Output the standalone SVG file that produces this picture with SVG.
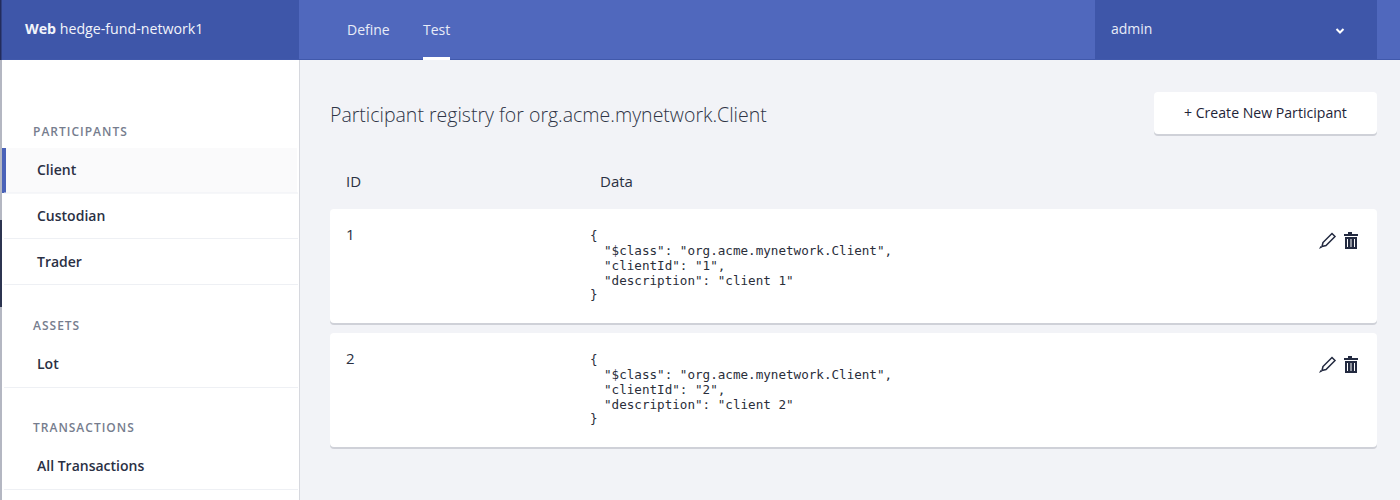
<svg xmlns="http://www.w3.org/2000/svg" width="1400" height="500" viewBox="0 0 1400 500">
<style>
text{font-family:"Open Sans","Noto Sans",sans-serif}
.nav{font-size:14px;fill:#e8ecf8}
.sec{font-size:12px;font-weight:600;fill:#767d8e;letter-spacing:1px}
.item{font-size:14px;font-weight:600;fill:#2a3044}
.th{font-size:15px;fill:#2a3042}
.id{font-size:15px;fill:#2a3042}
.code{font-family:"DejaVu Sans Mono","Liberation Mono",monospace;font-size:12.600px;fill:#2a2e3a;white-space:pre}
.line{stroke:#eef0f4;stroke-width:1}
.ic{fill:#232a40}
.pen{fill:#fff;stroke:#232a40;stroke-width:1.500}
</style>
<rect width="1400" height="500" fill="#f2f3f7"/>
<g id="header">
<rect width="1400" height="59" fill="#5068bd"/>
<rect x="1" width="298" height="59" fill="#3e56a9"/>
<rect x="1095" width="282" height="59" fill="#3e56a9"/>
<rect y="59" width="1400" height="1" fill="#4159ab"/>
<rect width="1.500" height="60" fill="#232c5c"/>
<text x="25" y="34" font-size="14.200" fill="#f2f4fb"><tspan font-weight="700">Web</tspan> hedge-fund-network1</text>
<text class="nav" x="347" y="35">Define</text>
<text class="nav" x="423" y="35">Test</text>
<rect x="423" y="57" width="27" height="3" fill="#fff"/>
<text class="nav" x="1111" y="34">admin</text>
<path d="M1336.500 29l3.500 3.500 3.500-3.500" fill="none" stroke="#fff" stroke-width="2"/>
</g>
<g id="sidebar">
<rect x="2" y="60" width="297" height="440" fill="#fff"/>
<rect x="299" y="60" width="1" height="440" fill="#d6d8de"/>
<rect y="60" width="2" height="440" fill="#b4b7c2"/>
<rect y="220" width="2" height="87" fill="#2c3450"/>
<rect x="6" y="148" width="291" height="45" fill="#fafafb"/>
<rect x="2" y="148" width="4" height="45" fill="#4a62b8"/>
<line class="line" x1="4" x2="298" y1="193" y2="193"/>
<line class="line" x1="4" x2="298" y1="238.500" y2="238.500"/>
<line class="line" x1="4" x2="298" y1="284.500" y2="284.500"/>
<line class="line" x1="4" x2="298" y1="387.500" y2="387.500"/>
<line class="line" x1="4" x2="298" y1="489.500" y2="489.500"/>
<text class="sec" x="33" y="136">PARTICIPANTS</text>
<text class="item" x="37" y="175">Client</text>
<text class="item" x="37" y="221">Custodian</text>
<text class="item" x="37" y="267">Trader</text>
<text class="sec" x="33" y="330">ASSETS</text>
<text class="item" x="37" y="369">Lot</text>
<text class="sec" x="33" y="432">TRANSACTIONS</text>
<text class="item" x="37" y="471">All Transactions</text>
</g>
<g id="title">
<text x="330" y="122" font-size="19.500" font-weight="300" fill="#2f3546">Participant registry for org.acme.mynetwork.Client</text>
</g>
<g id="create-button">
<rect x="1154" y="94" width="223" height="42" rx="4" fill="#cfd1d8"/>
<rect x="1154" y="92" width="223" height="42" rx="4" fill="#fff"/>
<text x="1184" y="118" font-size="14.100" fill="#1e2438">+ Create New Participant</text>
</g>
<g id="table-head">
<text class="th" x="346" y="187">ID</text>
<text class="th" x="600" y="187">Data</text>
</g>
<g id="row-1">
<rect x="330" y="211" width="1047" height="114" rx="4" fill="#cfd1d8"/>
<rect x="330" y="209" width="1047" height="114" rx="4" fill="#fff"/>
<text class="id" x="346" y="240">1</text>
<g transform="translate(0 .5)">
<text class="code" x="590" y="239">{</text>
<text class="code" x="604" y="254">"$class": "org.acme.mynetwork.Client",</text>
<text class="code" x="604" y="269">"clientId": "1",</text>
<text class="code" x="604" y="284">"description": "client 1"</text>
<text class="code" x="590" y="298">}</text>
</g>
<path class="pen" d="M1323 242.500l9-9 3 3-9 9-4 1z"/>
<path class="ic" d="M1319 249l1.500-3 1.500 1.500z"/>
<path class="ic" d="M1344 234h4v-2h4v2h6v2h-14zM1345 237h12v12h-12z"/>
<path d="M1347.500 239v8M1351 239v8M1354.500 239v8" stroke="#fff" stroke-width="1"/>
</g>
<g id="row-2">
<rect x="330" y="335" width="1047" height="114" rx="4" fill="#cfd1d8"/>
<rect x="330" y="333" width="1047" height="114" rx="4" fill="#fff"/>
<text class="id" x="346" y="364">2</text>
<g transform="translate(0 .5)">
<text class="code" x="590" y="363">{</text>
<text class="code" x="604" y="378">"$class": "org.acme.mynetwork.Client",</text>
<text class="code" x="604" y="393">"clientId": "2",</text>
<text class="code" x="604" y="408">"description": "client 2"</text>
<text class="code" x="590" y="422">}</text>
</g>
<path class="pen" d="M1323 366.500l9-9 3 3-9 9-4 1z"/>
<path class="ic" d="M1319 373l1.500-3 1.500 1.500z"/>
<path class="ic" d="M1344 358h4v-2h4v2h6v2h-14zM1345 361h12v12h-12z"/>
<path d="M1347.500 363v8M1351 363v8M1354.500 363v8" stroke="#fff" stroke-width="1"/>
</g>
<g id="connectors"/>
</svg>
